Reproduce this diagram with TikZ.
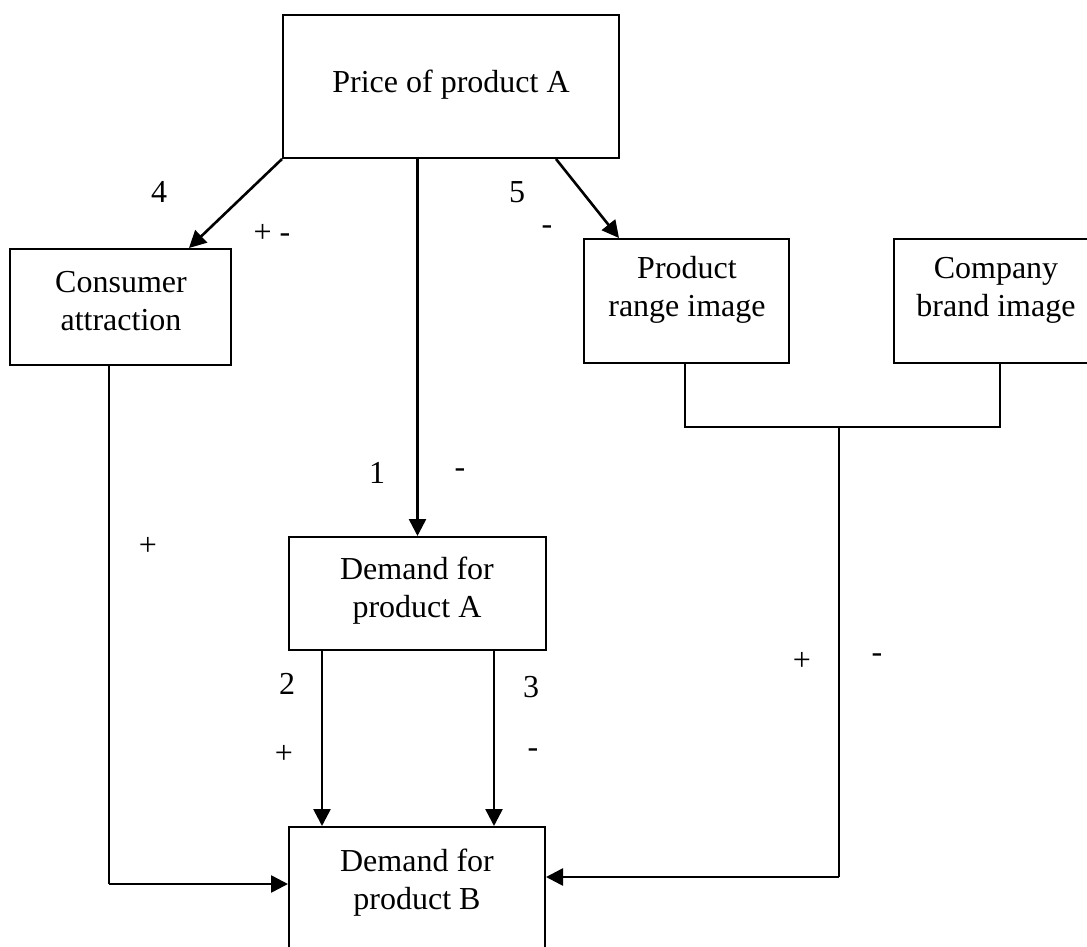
\documentclass[tikz,border=0pt]{standalone}
\usepackage{fontspec}
\setmainfont{Liberation Serif}
\usetikzlibrary{arrows.meta,fit,calc}
\begin{document}
\begin{tikzpicture}[x=1pt,y=-1pt,
  box/.style={draw,line width=2pt,inner sep=0pt},
  txt/.style={align=center,inner sep=0pt,font=\fontsize{32}{38}\selectfont},
  lbl/.style={inner sep=0pt,font=\fontsize{32}{38}\selectfont},
  conn/.style={line width=2pt},
  arr/.style={line width=2.6pt,-{Triangle[length=17pt,width=17pt]}}]
\useasboundingbox (0,0) rectangle (1087,947);
% boxes
\node[box,fit={(283,15) (619,158)}] (price) {};
\node[box,fit={(10,249) (231,365)}] (consumer) {};
\node[box,fit={(584,239) (789,363)}] (product) {};
\node[box,fit={(894,239) (1100,363)}] (company) {};
\node[box,fit={(289,537) (546,650)}] (demandA) {};
\node[box,fit={(289,827) (545,990)}] (demandB) {};
% texts
\node[txt,anchor=base] (pricetxt) at (451,93) {Price of product A};
\node[txt] (consumertxt) at (121,301) {Consumer\\attraction};
\node[txt] (producttxt) at (687,290) {Product\\range image};
\node[txt] (companytxt) at (996,290) {Company\\brand image};
\node[txt] (demandAtxt) at (417,591) {Demand for\\product A};
\node[txt] (demandBtxt) at (417,883) {Demand for\\product B};
% coordinates
\coordinate (c4) at ($(consumer.north west)+(180,0)$);
\coordinate (p5) at ($(price.south west)+(274,0)$);
\coordinate (t5) at ($(product.north west)+(36,0)$);
\coordinate (a2) at ($(demandA.south west)+(34,0)$);
\coordinate (a3) at ($(demandA.south west)+(206,0)$);
\coordinate (lft) at (109,366);
\coordinate (lcorner) at (109,884);
\coordinate (pb) at (685,364);
\coordinate (cb) at (1000,364);
\coordinate (pbj) at (685,427);
\coordinate (cbj) at (1000,427);
\coordinate (junc) at (839,427);
\coordinate (rcorner) at (839,877);
% connectors
\draw[arr] (price.south west) -- (c4);
\draw[arr] (p5) -- (t5);
\draw[arr] (demandA.north |- price.south) -- (demandA.north);
\draw[arr] (a2) -- (a2 |- demandB.north);
\draw[arr] (a3) -- (a3 |- demandB.north);
\draw[conn] (lft) -- (lcorner);
\draw[arr] (lcorner) -- (demandB.west |- lcorner);
\draw[conn] (pb) -- (pbj) -- (cbj) -- (cb);
\draw[conn] (junc) -- (rcorner);
\draw[arr] (rcorner) -- (demandB.east |- rcorner);
% labels
\node[lbl] (l4) at (159,192) {4};
\node[lbl] (l4s) at (272,233) {+ -};
\node[lbl] (l5) at (517,192) {5};
\node[lbl] (l5s) at (547,230) {-};
\node[lbl] (l1) at (377,473) {1};
\node[lbl] (l1s) at (460,473) {-};
\node[lbl] (lcs) at (148,546) {+};
\node[lbl] (l2) at (287,684) {2};
\node[lbl] (l3) at (531,687) {3};
\node[lbl] (l2s) at (284,754) {+};
\node[lbl] (l3s) at (533,753) {-};
\node[lbl] (lrp) at (802,661) {+};
\node[lbl] (lrm) at (877,658) {-};
\end{tikzpicture}
\end{document}
